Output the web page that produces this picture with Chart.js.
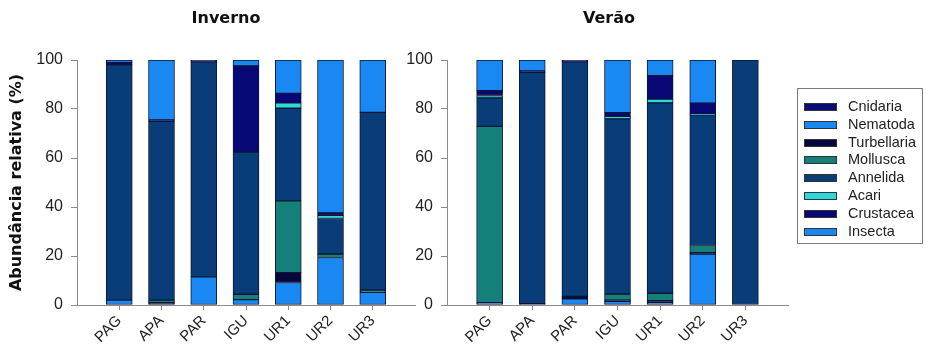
<!DOCTYPE html>
<html>
<head>
<meta charset="utf-8">
<script src="https://cdn.jsdelivr.net/npm/chart.js@4/dist/chart.umd.min.js"></script>
<style>
  html, body { margin: 0; padding: 0; background: #fff; }
  #wrap { position: relative; width: 929px; height: 349px; overflow: hidden; }
  canvas { position: absolute; top: 0; }
  .ttl { position: absolute; top: 8px; transform: translateX(-50%); font: bold 16px "DejaVu Sans", sans-serif; line-height: 20px; color: #111; white-space: nowrap; }
  #legend { position: absolute; left: 797px; top: 88px; width: 126px; height: 156px; border: 1px solid #7a7a7a; box-sizing: border-box; padding-top: 9px; }
  .item { height: 17.8px; position: relative; font: 14.5px "Liberation Sans", Arial, sans-serif; color: #222; }
  .sw { position: absolute; left: 6px; top: 5px; width: 31px; height: 6px; border: 1px solid #333; }
  .lb { position: absolute; left: 50px; top: 0; line-height: 17.8px; }
</style>
</head>
<body>
<div id="wrap">
  <canvas id="cInverno" width="420" height="349" style="left:0px;width:420px;height:349px"></canvas>
  <canvas id="cVerao" width="405" height="349" style="left:395px;width:405px;height:349px"></canvas>
  <div class="ttl" style="left:226px">Inverno</div>
  <div class="ttl" style="left:609px">Verão</div>
  <div id="legend"></div>
</div>
<script>
// Sampling sites
const sites = ['PAG', 'APA', 'PAR', 'IGU', 'UR1', 'UR2', 'UR3'];
const yTicks = [0, 20, 40, 60, 80, 100];

// Relative abundance (%) per taxon, winter
const insectaInverno     = [2, 0, 11.5, 2.2, 9.2, 19.4, 5.2];
const turbellariaInverno = [0, 1, 0, 0, 4, 0, 0];
const molluscaInverno    = [0, 1, 0, 2.2, 29.3, 1.4, 0.9];
const annelidaInverno    = [96, 73, 87.8, 58, 37.8, 14.5, 72.5];
const acariInverno       = [0, 0, 0, 0, 2.2, 1.3, 0];
const crustaceaInverno   = [1, 0.5, 0.7, 35.2, 3.9, 1, 0];
const cnidariaInverno    = [0, 0, 0, 0, 0, 0, 0];
const nematodaInverno    = [1, 24.5, 0, 2.4, 13.6, 62.4, 21.4];

// Relative abundance (%) per taxon, summer
const insectaVerao     = [1, 0, 2.5, 1.5, 1, 20.8, 0];
const turbellariaVerao = [0, 0.5, 1, 0.5, 0.8, 0.6, 0];
const molluscaVerao    = [71.9, 0, 0, 2.5, 3, 2.9, 0];
const annelidaVerao    = [11.6, 94.5, 95.8, 71.5, 77.7, 53.3, 100];
const acariVerao       = [1, 0, 0, 1, 1.6, 0.4, 0];
const crustaceaVerao   = [2, 0.5, 0.7, 1.5, 9.5, 4.4, 0];
const cnidariaVerao    = [0, 0, 0, 0, 0, 0, 0];
const nematodaVerao    = [12.5, 4.5, 0, 21.5, 6.4, 17.6, 0];

// Taxa in stacking order (bottom to top)
const stackTaxa = ['Insecta', 'Turbellaria', 'Mollusca', 'Annelida', 'Acari', 'Crustacea', 'Cnidaria', 'Nematoda'];
// Taxa in legend order (top to bottom)
const legendTaxa = ['Cnidaria', 'Nematoda', 'Turbellaria', 'Mollusca', 'Annelida', 'Acari', 'Crustacea', 'Insecta'];

const taxonColor = {
  Cnidaria: '#0b0b78',
  Nematoda: '#1a88f2',
  Turbellaria: '#06073e',
  Mollusca: '#15807a',
  Annelida: '#083d7a',
  Acari: '#2fd8dc',
  Crustacea: '#070775',
  Insecta: '#1a88f2'
};

const seasonData = {
  inverno: {
    Insecta: insectaInverno, Turbellaria: turbellariaInverno, Mollusca: molluscaInverno,
    Annelida: annelidaInverno, Acari: acariInverno, Crustacea: crustaceaInverno,
    Cnidaria: cnidariaInverno, Nematoda: nematodaInverno
  },
  verao: {
    Insecta: insectaVerao, Turbellaria: turbellariaVerao, Mollusca: molluscaVerao,
    Annelida: annelidaVerao, Acari: acariVerao, Crustacea: crustaceaVerao,
    Cnidaria: cnidariaVerao, Nematoda: nematodaVerao
  }
};

const tickFont = { family: '"Liberation Sans", Arial, sans-serif', size: 16 };
const axisGray = '#8a8a8a';

function buildChart(canvasId, season, opts) {
  const datasets = stackTaxa.map(t => ({
    label: t,
    data: seasonData[season][t].map((v, i) => ({ x: i + 1, y: v > 0 ? v : null })),
    backgroundColor: taxonColor[t],
    borderColor: '#0c1633',
    borderWidth: 1,
    borderSkipped: false,
    barThickness: 26
  }));

  return new Chart(document.getElementById(canvasId), {
    type: 'bar',
    data: { datasets },
    options: {
      responsive: false,
      animation: false,
      devicePixelRatio: 1,
      layout: { padding: { left: 0, top: 60, right: opts.padRight, bottom: 0 } },
      plugins: { legend: { display: false }, tooltip: { enabled: false }, title: { display: false } },
      scales: {
        x: {
          type: 'linear',
          stacked: true,
          offset: false,
          min: 0,
          max: sites.length + 1,
          afterBuildTicks: s => { s.ticks = sites.map((_, i) => ({ value: i + 1 })); },
          afterFit: s => { s.height = 44; },
          ticks: {
            autoSkip: false,
            minRotation: 45,
            maxRotation: 45,
            padding: 2,
            color: '#222',
            font: { family: '"Liberation Sans", Arial, sans-serif', size: 15 },
            callback: v => sites[v - 1]
          },
          grid: { offset: false, drawOnChartArea: false, drawTicks: true, tickLength: 5, color: axisGray },
          border: { display: true, color: axisGray, width: 1 }
        },
        y: {
          stacked: true,
          min: 0,
          max: 100,
          afterBuildTicks: s => { s.ticks = yTicks.map(v => ({ value: v })); },
          afterFit: s => { s.width = opts.yWidth; },
          ticks: { padding: 8, color: '#222', font: tickFont },
          grid: { drawOnChartArea: false, drawTicks: true, tickLength: 6, color: axisGray },
          border: { display: true, color: axisGray, width: 1 },
          title: {
            display: opts.showYTitle,
            text: 'Abundância relativa (%)',
            color: '#111',
            font: { family: '"DejaVu Sans", sans-serif', size: 16, weight: 'bold' },
            padding: { top: 7, bottom: 0 }
          }
        }
      }
    }
  });
}

buildChart('cInverno', 'inverno', { padRight: 5, yWidth: 77, showYTitle: true });
buildChart('cVerao', 'verao', { padRight: 12, yWidth: 52, showYTitle: false });

// Legend box
const legendEl = document.getElementById('legend');
legendTaxa.forEach(t => {
  const row = document.createElement('div');
  row.className = 'item';
  const sw = document.createElement('span');
  sw.className = 'sw';
  sw.style.background = taxonColor[t];
  const lb = document.createElement('span');
  lb.className = 'lb';
  lb.textContent = t;
  row.appendChild(sw);
  row.appendChild(lb);
  legendEl.appendChild(row);
});
</script>
</body>
</html>
